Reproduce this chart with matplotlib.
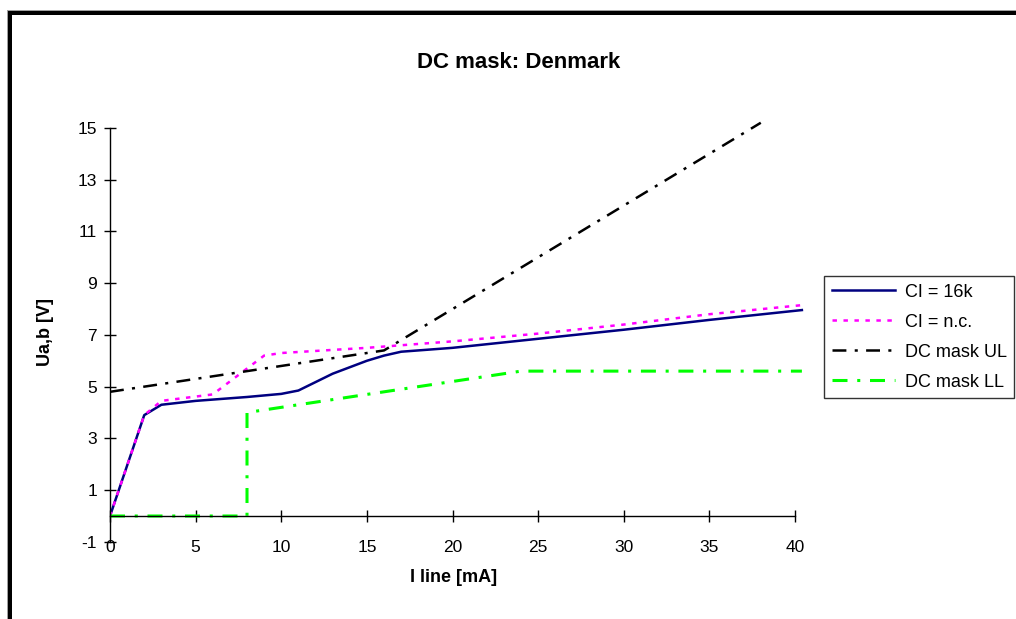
import matplotlib
matplotlib.use("Agg")
import matplotlib.pyplot as plt
from matplotlib.patches import Rectangle

plt.rcParams['font.family'] = ['Liberation Sans', 'DejaVu Sans']
plt.rcParams['lines.scale_dashes'] = False
plt.rcParams['axes.unicode_minus'] = False

# data
ci16k_x = [0, 2, 3, 5, 8, 10, 11, 13, 15, 16, 17, 20, 25, 30, 35, 40.4]
ci16k_y = [0, 3.9, 4.3, 4.45, 4.6, 4.72, 4.85, 5.5, 6.0, 6.2, 6.35, 6.5, 6.85, 7.2, 7.58, 7.96]

cinc_x = [0, 2, 3, 6, 9, 10, 15, 20, 25, 30, 35, 40.4]
cinc_y = [0, 3.9, 4.45, 4.7, 6.2, 6.3, 6.5, 6.75, 7.05, 7.4, 7.8, 8.15]

ul_x = [0, 16, 38]
ul_y = [4.8, 6.4, 15.2]

ll_x = [0, 8, 8, 24, 40.4]
ll_y = [0, 0, 4.0, 5.6, 5.6]

labels = ['CI = 16k', 'CI = n.c.', 'DC mask UL', 'DC mask LL']
xticks = [0, 5, 10, 15, 20, 25, 30, 35, 40]
yticks = [-1, 1, 3, 5, 7, 9, 11, 13, 15]

W, H = 1016, 619
fig = plt.figure(figsize=(W / 100, H / 100), dpi=100)
ax = fig.add_axes([110 / W, 0.1246, 693.6 / W, 0.6938])

ax.plot(ci16k_x, ci16k_y, color='#000080', lw=1.8, label=labels[0])
ax.plot(cinc_x, cinc_y, color='#ff00ff', lw=1.8, linestyle=(0, (3.2, 4.7)), label=labels[1])
ax.plot(ul_x, ul_y, color='black', lw=1.8, linestyle=(0, (10, 6, 2.2, 6)), label=labels[2])
ax.plot(ll_x, ll_y, color='#00ff00', lw=2.2, linestyle=(0, (10.8, 7, 2.2, 7)), label=labels[3])

ax.set_xlim(0, 40.5)
ax.set_ylim(-1, 15.6)
ax.set_xticks(xticks)
ax.set_yticks(yticks)
ax.spines['top'].set_visible(False)
ax.spines['right'].set_visible(False)
ax.spines['bottom'].set_position(('data', 0))
ax.spines['bottom'].set_bounds(0, 40)
ax.spines['left'].set_bounds(-1, 15)
for s in ('bottom', 'left'):
    ax.spines[s].set_linewidth(1)
    ax.spines[s].set_color('black')
ax.tick_params(axis='x', direction='inout', length=8.6, width=1, pad=13, labelsize=12.5)
ax.tick_params(axis='y', direction='inout', length=8.6, width=1, pad=5, labelsize=12.5)

fig.text(518.5 / W, 1 - 62 / H, 'DC mask: Denmark', ha='center', va='center',
         fontsize=16, fontweight='bold')
fig.text(453.5 / W, 1 - 578 / H, 'I line [mA]', ha='center', va='center',
         fontsize=13, fontweight='bold')
fig.text(46 / W, 1 - 332 / H, 'Ua,b [V]', ha='center', va='center', rotation=90,
         fontsize=13, fontweight='bold')

leg = ax.legend(loc='upper left', bbox_to_anchor=(824 / W, 1 - 276 / H),
                bbox_transform=fig.transFigure, fontsize=13, frameon=True,
                fancybox=False, handlelength=3.5, handletextpad=0.55,
                borderpad=0.42, labelspacing=0.72, borderaxespad=0)
leg.get_frame().set_edgecolor('black')
leg.get_frame().set_linewidth(1)

# outer frame of the original sheet (only top and left are visible)
fig.add_artist(Rectangle((7 / W, 0), 1 / W, (H - 10) / H, transform=fig.transFigure,
                         color='#a0a0a0', lw=0))
fig.add_artist(Rectangle((7 / W, 1 - 11 / H), 1, 1 / H, transform=fig.transFigure,
                         color='#a0a0a0', lw=0))
fig.add_artist(Rectangle((8 / W, 0), 3.5 / W, (H - 11) / H, transform=fig.transFigure,
                         color='black', lw=0))
fig.add_artist(Rectangle((8 / W, 1 - 15 / H), 1, 4 / H, transform=fig.transFigure,
                         color='black', lw=0))

fig.savefig('out.png', dpi=100)
